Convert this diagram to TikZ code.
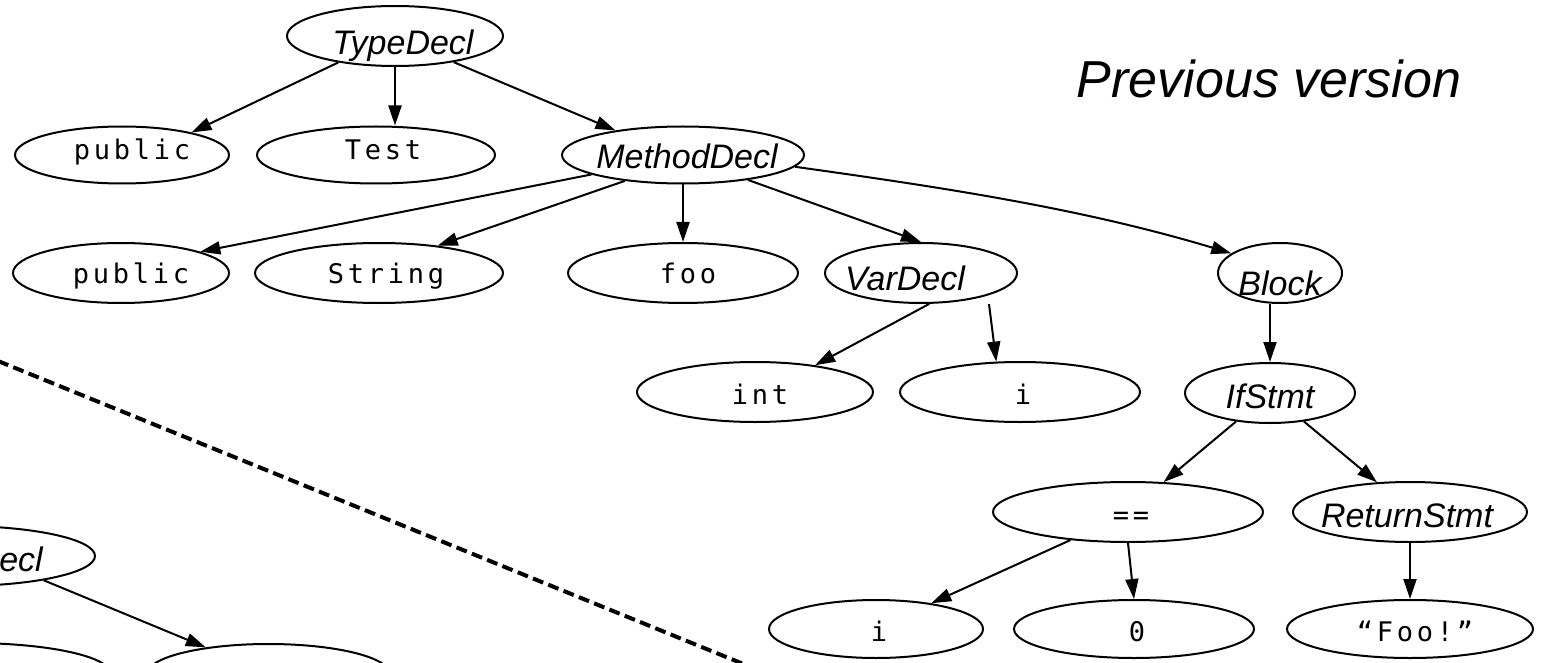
\documentclass[tikz,border=0pt]{standalone}
\usepackage{fontspec}
\usetikzlibrary{shapes.geometric,arrows.meta}
\newfontfamily\nodeit{Liberation Sans}
\newfontfamily\nodett[LetterSpace=14]{DejaVu Sans Mono}
\newcommand\lbl[3]{\makebox[0pt]{\hspace*{#1}\raisebox{#2}[0pt][0pt]{#3}}}
\tikzset{
  ell/.style={draw, ellipse, line width=2pt, inner sep=0pt},
  itx/.style={font=\nodeit\itshape\fontsize{34}{34}\selectfont},
  ttx/.style={font=\nodett\fontsize{27}{27}\selectfont},
  arr/.style={line width=2pt, -{Triangle[length=20pt,width=13pt]}},
  sepline/.style={line width=4pt, dash pattern=on 11pt off 5.5pt},
}
\begin{document}
\begin{tikzpicture}[x=1pt,y=-1pt]
\useasboundingbox (0,0) rectangle (1547,663);
\fill[white] (0,0) rectangle (1547,663);
\clip (0,0) rectangle (1547,663);

% previous version tree
\node[ell, itx, minimum width=216pt, minimum height=60pt] (td) at (395,36) {\lbl{16pt}{-19pt}{TypeDecl}};
\node[ell, ttx, minimum width=214pt, minimum height=57pt] (p1) at (122,155) {\lbl{20pt}{-5pt}{public}};
\node[ell, ttx, minimum width=238pt, minimum height=57pt] (Test) at (376,155) {\lbl{14pt}{-5pt}{Test}};
\node[ell, itx, minimum width=242pt, minimum height=57pt] (md) at (683,155) {\lbl{8pt}{-14pt}{MethodDecl}};
\node[ell, ttx, minimum width=216pt, minimum height=60pt] (p2) at (121,273) {\lbl{20pt}{-10pt}{public}};
\node[ell, ttx, minimum width=248pt, minimum height=60pt] (String) at (379,273) {\lbl{14pt}{-10pt}{String}};
\node[ell, ttx, minimum width=230pt, minimum height=60pt] (foo) at (683,273) {\lbl{10pt}{-10pt}{foo}};
\node[ell, itx, minimum width=192pt, minimum height=60pt] (vd) at (921,273) {\lbl{-32pt}{-17pt}{VarDecl}};
\node[ell, itx, minimum width=124pt, minimum height=60pt] (blk) at (1280,273) {\lbl{0pt}{-22pt}{Block}};
\node[ell, ttx, minimum width=236pt, minimum height=60pt] (int) at (755,392) {\lbl{10pt}{-12pt}{int}};
\node[ell, ttx, minimum width=240pt, minimum height=60pt] (i1) at (1020,392) {\lbl{6pt}{-12pt}{i}};
\node[ell, itx, minimum width=170pt, minimum height=60pt] (ifs) at (1270,393) {\lbl{0pt}{-15pt}{IfStmt}};
\node[ell, ttx, minimum width=270pt, minimum height=60pt] (eq) at (1128,512) {\lbl{6pt}{-12pt}{==}};
\node[ell, itx, minimum width=234pt, minimum height=60pt] (rs) at (1410,512) {\lbl{-6pt}{-15pt}{ReturnStmt}};
\node[ell, ttx, minimum width=214pt, minimum height=58pt] (i2) at (876,629) {\lbl{6pt}{-12pt}{i}};
\node[ell, ttx, minimum width=240pt, minimum height=58pt] (zero) at (1134,629) {\lbl{6pt}{-12pt}{0}};
\node[ell, ttx, minimum width=246pt, minimum height=58pt] (foo2) at (1410,629) {\lbl{10pt}{-12pt}{“Foo!”}};

\draw[arr] (td.-155) -- (p1.18);
\draw[arr] (td.south) -- (td.south |- Test.north);
\draw[arr] (td.-24) -- (md.160);
\draw[arr] (md.192) -- (p2.15);
\draw[arr] (md.-156) -- (String.25);
\draw[arr] (md.south) -- (md.south |- foo.north);
\draw[arr] (md.-21) -- (vd.north);
\draw[arr] (md.-6) .. controls +(150,21) and +(-150,-45) .. (blk.158);
\draw[arr] (vd.-75) -- (int.24);
\draw[arr] ([yshift=-9pt]vd.-18) -- (i1.128);
\draw[arr] (ifs.north |- blk.south) -- (ifs.north);
\draw[arr] (ifs.-140) -- (eq.40);
\draw[arr] (ifs.-40) -- (rs.138);
\draw[arr] (eq.-154) -- (i2.25);
\draw[arr] (eq.south) -- (zero.north);
\draw[arr] (rs.south) -- (rs.south |- foo2.north);

% title
\node[font=\nodeit\itshape\fontsize{52}{52}\selectfont, anchor=base, inner sep=0pt] (title) at (1269,98) {Previous version};

% separator
\coordinate (sepA) at (-2,361);
\coordinate (sepB) at (800,687);
\draw[sepline] (sepA) -- (sepB);

% current version tree (cut off)
\node[ell, itx, minimum width=272pt, minimum height=60pt] (ecl) at (-41,556) {\lbl{124pt}{-15pt}{ecl}};
\node[ell, minimum width=243pt, minimum height=60pt] (t2) at (268.5,674) {};
\node[ell, minimum width=280pt, minimum height=60pt] (p3) at (-30,673) {};
\draw[arr] (ecl.-16) -- (t2.157);
\end{tikzpicture}
\end{document}
